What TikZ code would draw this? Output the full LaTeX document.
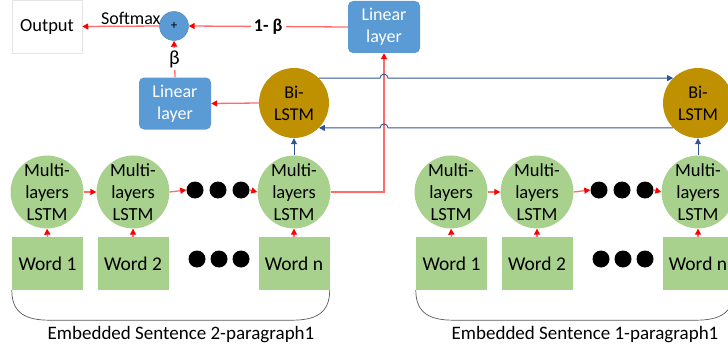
\documentclass[tikz,border=0pt]{standalone}
\usepackage{fontspec}
\setmainfont{Carlito}
\usetikzlibrary{arrows.meta}
\definecolor{lblue}{HTML}{5B9BD5}
\definecolor{gold}{HTML}{BF9000}
\definecolor{grn}{HTML}{A9D18E}
\definecolor{rline}{HTML}{FF6B6B}
\definecolor{bline}{HTML}{2F5597}
\begin{document}
\begin{tikzpicture}[x=1pt,y=-1pt,
  txt/.style={font=\fontsize{18}{22}\selectfont},
  mlstm/.style={font=\fontsize{18.5}{22}\selectfont,circle,fill=grn,minimum size=71pt,inner sep=0pt,align=center},
  word/.style={font=\fontsize{19.5}{24}\selectfont,rectangle,fill=grn,minimum width=71pt,minimum height=53pt,inner sep=0pt},
  lin/.style={txt,rectangle,rounded corners=5pt,fill=lblue,text=white,minimum width=72pt,minimum height=52pt,inner sep=0pt,align=center},
  bil/.style={txt,circle,fill=gold,minimum size=70pt,inner sep=0pt,align=center},
  bigdot/.style={circle,fill=black,minimum size=17pt,inner sep=0pt},
  outbox/.style={font=\fontsize{18.5}{22}\selectfont,rectangle,draw=gray!20,line width=0.5pt,minimum width=70pt,minimum height=53pt},
  plusc/.style={circle,fill=lblue,draw=lblue!80!black,line width=0.4pt,minimum size=29pt,inner sep=0pt,font=\fontsize{13}{15}\selectfont},
  rarr/.style={draw=rline,line width=1.3pt,-{Triangle[color=red,length=6pt,width=6pt]}},
  barr/.style={draw=bline,line width=0.9pt,-{Triangle[color=bline,length=6pt,width=6pt]}},
  brace/.style={draw=black!65,line width=0.7pt},
  caption/.style={font=\fontsize{19}{22}\selectfont}
]
\useasboundingbox (0,0) rectangle (728,353);
\clip (0,0) rectangle (728,353);

% top part
\node[outbox] (out) at (47,26.5) {Output};
\node[plusc] (plus) at (174,26) {+};
\node[lin] (lin1) at (384,27) {Linear\\layer};
\node[lin] (lin2) at (175,103.5) {Linear\\layer};
\node[bil] (bl) at (294,103) {Bi-\\LSTM};
\node[bil] (br) at (698,103) {Bi-\\LSTM};
\coordinate (hopa) at (380,0);
\coordinate (hopb) at (388,0);

\draw[rarr] (plus.west) -- node[pos=0.37,above=-2pt,txt] (sm) {Softmax} (out.east);
\draw[rarr] (lin1.west) -- node[midway,fill=white,inner sep=3pt,font=\fontsize{18}{22}\selectfont\bfseries] (omb) {1- β} (plus.east);
\draw[rarr] (lin2.north) -- node[midway,fill=white,inner sep=2pt,font=\fontsize{20}{22}\selectfont] (bt) {β} (plus.south);
\draw[rarr] (bl.west) -- (lin2.east);

\foreach \o/\g/\t in {0/a/2,404/b/1}{
  \node[mlstm] (m1\g) at (47+\o,192) {Multi-\\layers\\LSTM};
  \node[mlstm] (m2\g) at (133+\o,192) {Multi-\\layers\\LSTM};
  \node[mlstm] (mn\g) at (294+\o,192) {Multi-\\layers\\LSTM};
  \node[bigdot] (du1\g) at (195+\o,190) {};
  \node[bigdot] (du2\g) at (218+\o,190) {};
  \node[bigdot] (du3\g) at (241+\o,190) {};
  \node[word] (w1\g) at (47.5+\o,263.5) {Word 1};
  \node[word] (w2\g) at (133+\o,263.5) {Word 2};
  \node[word] (wn\g) at (294+\o,263.5) {Word n};
  \node[bigdot] (dl1\g) at (197+\o,259) {};
  \node[bigdot] (dl2\g) at (219+\o,259) {};
  \node[bigdot] (dl3\g) at (241+\o,259) {};
  \draw[rarr] (w1\g.north) -- (m1\g.south);
  \draw[rarr] (w2\g.north) -- (m2\g.south);
  \draw[rarr] (wn\g.north) -- (mn\g.south);
  \draw[rarr] (m1\g.east) -- (m2\g.west);
  \draw[rarr] (m2\g.east) -- (du1\g.west);
  \draw[rarr] (du3\g.east) -- (mn\g.west);
  \draw[brace] (w1\g.south west) .. controls +(0,23) and +(-24,0) .. ([shift={(38,30)}]w1\g.south west)
     -- ([shift={(-38,30)}]wn\g.south east) .. controls +(24,0) and +(0,23) .. (wn\g.south east);
  \node[caption] (cap\g) at (181+\o,335) {Embedded Sentence \t-paragraph1};
}

\draw[barr] (mna.north) -- (bl.south);
\draw[barr] (mnb.north) -- (br.south);
\draw[rarr] (mna.east) -- (mna.east -| lin1.south) -- (lin1.south);

% bidirectional links with hops over the red line
\draw[barr] (bl.45) -- (bl.45 -| hopa) arc(180:360:4) -- (br.135);
\draw[barr] (br.225) -- (br.225 -| hopb) arc(0:-180:4) -- (bl.-45);
\end{tikzpicture}
\end{document}
